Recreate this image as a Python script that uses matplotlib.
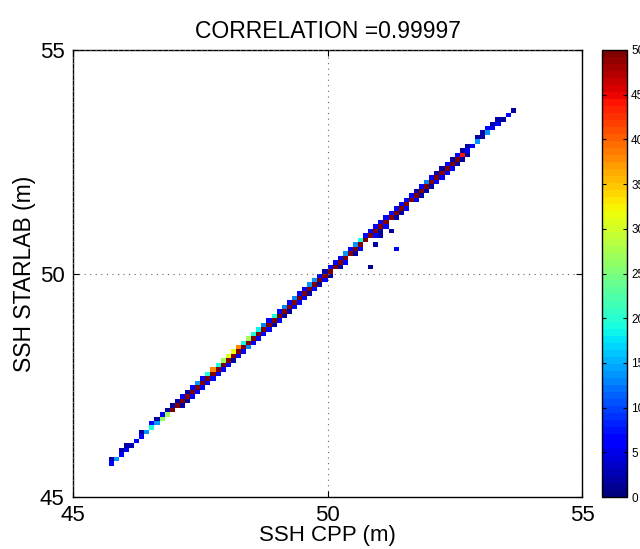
import numpy as np
import matplotlib
matplotlib.use("Agg")
import matplotlib.pyplot as plt
from matplotlib.colors import ListedColormap

# ---- data: 2-D histogram of SSH (0.1 m bins) ----
bin_width = 0.1
axis_min, axis_max = 45.0, 55.0
first_col_center = 45.75          # x centre of first populated column (45.7-45.8)

# counts per column: one bin below the diagonal, on the diagonal, one bin above
below = [0, 0, 0, 0, 0, 0, 0, 0, 0, 0, 0, 0, 0, 0, 2, 2, 6, 6, 6, 6,
         6, 6, 6, 6, 2, 6, 7, 13, 7, 7, 7, 6, 2, 6, 2, 2, 7, 6, 7, 2,
         7, 2, 7, 2, 0, 2, 7, 0, 2, 7, 0, 0, 6, 2, 7, 0, 2, 2, 7, 0,
         7, 2, 2, 2, 7, 7, 7, 7, 2, 2, 2, 0, 0, 0, 0, 0, 0, 0, 0, 0]
diag = [7, 14, 7, 7, 3, 7, 7, 14, 19, 14, 26, 27, 50, 50, 50, 50, 50, 50, 50, 50,
        50, 50, 50, 50, 50, 50, 50, 50, 50, 50, 50, 50, 50, 50, 50, 50, 50, 50, 50, 50,
        50, 50, 50, 50, 50, 50, 50, 50, 50, 50, 50, 50, 50, 50, 50, 50, 50, 50, 50, 50,
        50, 50, 50, 50, 50, 50, 50, 50, 50, 44, 7, 7, 14, 2, 14, 6, 7, 2, 7, 2]
above = [2, 0, 2, 2, 0, 0, 2, 0, 7, 2, 7, 2, 2, 2, 7, 2, 7, 14, 7, 19,
         38, 19, 27, 31, 32, 38, 19, 27, 19, 18, 13, 7, 19, 7, 13, 7, 13, 7, 7, 14,
         14, 7, 2, 7, 7, 7, 14, 7, 14, 19, 7, 7, 7, 7, 7, 7, 7, 7, 7, 7,
         2, 7, 13, 7, 2, 2, 7, 2, 7, 2, 2, 0, 2, 2, 7, 2, 2, 0, 0, 0]

# isolated cells off the main band (bin centres, m)
extra_x = [51.05, 50.85, 50.95, 51.25, 51.35]
extra_y = [50.85, 50.15, 50.65, 50.95, 50.55]
extra_n = [2, 1, 2, 2, 6]

title_text = "CORRELATION =0.99997"
xlabel_text = "SSH CPP (m)"
ylabel_text = "SSH STARLAB (m)"
ticks = [45, 50, 55]
cbar_ticks = [0, 5, 10, 15, 20, 25, 30, 35, 40, 45, 50]
cmax = 50

# ---- build the grid ----
edges = np.round(np.arange(axis_min, axis_max + bin_width / 2, bin_width), 3)
nb = len(edges) - 1
H = np.zeros((nb, nb))


def idx(v):
    return int(np.floor((v - axis_min) / bin_width + 1e-6))


for k, (b, d, a) in enumerate(zip(below, diag, above)):
    xc = first_col_center + k * bin_width
    i = idx(xc)
    H[i - 1, i] += b
    H[i, i] += d
    H[i + 1, i] += a
for x, y, n in zip(extra_x, extra_y, extra_n):
    H[idx(y), idx(x)] += n

Hm = np.ma.masked_where(H == 0, H)

plt.rcParams['font.family'] = ['Liberation Sans', 'DejaVu Sans']
fig = plt.figure(figsize=(6.4, 5.49), dpi=100)
ax = fig.add_axes([73 / 640, 1 - 497 / 549, (582 - 73) / 640, (497 - 50) / 549])
cax = fig.add_axes([602 / 640, 1 - 497 / 549, 25 / 640, (497 - 50) / 549])

cmap = ListedColormap(plt.get_cmap('jet')(np.linspace(0, 1, 64)))
mesh = ax.pcolormesh(edges, edges, Hm, cmap=cmap, vmin=0, vmax=cmax)

ax.set_xlim(axis_min, axis_max)
ax.set_ylim(axis_min, axis_max)
ax.set_xticks(ticks)
ax.set_yticks(ticks)
ax.tick_params(direction='in', length=4, width=0.8, labelsize=16,
               top=True, right=True, pad=6)
ax.grid(True, linestyle=(0, (1, 4)), color='#666666', linewidth=0.8)
ax.set_axisbelow(False)
for s in ax.spines.values():
    s.set_linewidth(1.0)

ax.set_title(title_text, fontsize=16.5, pad=9)
ax.set_xlabel(xlabel_text, fontsize=16, labelpad=-1)
ax.set_ylabel(ylabel_text, fontsize=16.5, labelpad=3)

cb = fig.colorbar(mesh, cax=cax, ticks=cbar_ticks)
cb.outline.set_linewidth(1.0)
cax.tick_params(direction='in', length=3, width=0.8, labelsize=8.5, left=True, right=True, pad=3)

fig.savefig("out.png", dpi=100)
